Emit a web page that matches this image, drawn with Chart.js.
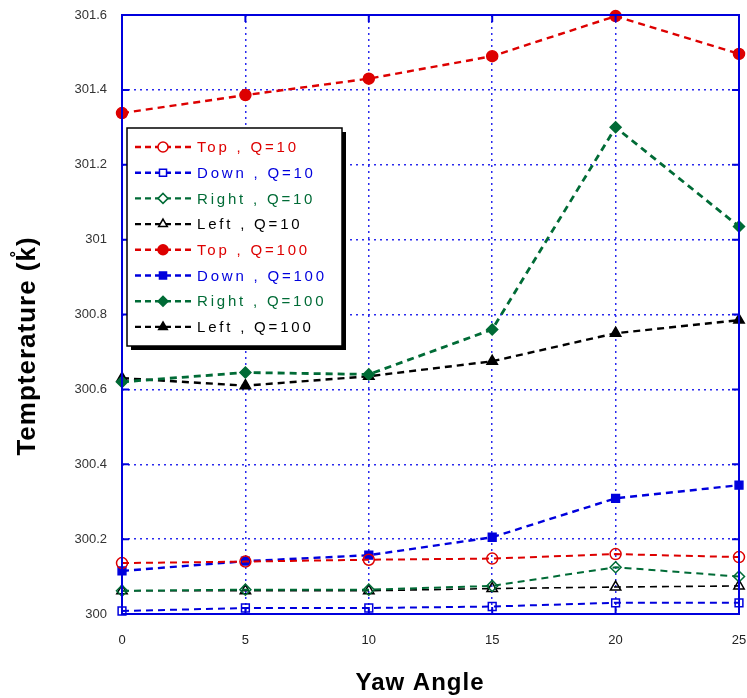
<!DOCTYPE html>
<html>
<head>
<meta charset="utf-8">
<script src="https://cdn.jsdelivr.net/npm/chart.js@4.4.1/dist/chart.umd.min.js"></script>
<style>
  html, body { margin: 0; padding: 0; background: #fff; }
  #wrap { width: 747px; height: 698px; }
</style>
</head>
<body>
<div id="wrap"><canvas id="chart" width="747" height="698"></canvas></div>
<script>
// Yaw angle vs temperature, eight probe series
const yawAngles = [0, 5, 10, 15, 20, 25]
const yTicks = [300, 300.2, 300.4, 300.6, 300.8, 301, 301.2, 301.4, 301.6]
const xTicks = [0, 5, 10, 15, 20, 25]

const topQ10 = [300.136, 300.140, 300.145, 300.148, 300.160, 300.152]
const downQ10 = [300.008, 300.016, 300.016, 300.020, 300.030, 300.030]
const rightQ10 = [300.062, 300.065, 300.065, 300.075, 300.125, 300.100]
const leftQ10 = [300.062, 300.062, 300.062, 300.068, 300.072, 300.075]
const topQ100 = [301.338, 301.386, 301.430, 301.490, 301.597, 301.496]
const downQ100 = [300.115, 300.141, 300.157, 300.205, 300.309, 300.344]
const rightQ100 = [300.620, 300.645, 300.640, 300.760, 301.300, 301.035]
const leftQ100 = [300.630, 300.610, 300.635, 300.675, 300.750, 300.785]

const RED = '#dd0000'
const BLUE = '#0000dd'
const GREEN = '#006b36'
const BLACK = '#000000'
const GRID = '#2a2aee'

const AREA = { left: 122, right: 739, top: 15, bottom: 614 }

function series(label, values, color, style, filled, width) {
  return {
    label,
    data: yawAngles.map((x, i) => ({ x, y: values[i] })),
    borderColor: color,
    borderWidth: width,
    borderDash: [7, 5],
    pointStyle: style,
    pointRadius: style === 'triangle' ? 6 : 5.5,
    pointBorderWidth: 1.5,
    pointBorderColor: color,
    pointBackgroundColor: filled ? color : 'rgba(0,0,0,0)',
    fill: false,
    tension: 0,
    clip: false,
  }
}

const datasets = [
  series('Top , Q=10', topQ10, RED, 'circle', false, 2),
  series('Down , Q=10', downQ10, BLUE, 'rect', false, 2),
  series('Right , Q=10', rightQ10, GREEN, 'rectRot', false, 2),
  series('Left , Q=10', leftQ10, BLACK, 'triangle', false, 1.6),
  series('Top , Q=100', topQ100, RED, 'circle', true, 2.4),
  series('Down , Q=100', downQ100, BLUE, 'rect', true, 2.4),
  series('Right , Q=100', rightQ100, GREEN, 'rectRot', true, 2.8),
  series('Left , Q=100', leftQ100, BLACK, 'triangle', true, 2.4),
]

// frame, inner tick marks, legend box and axis titles
const decor = {
  id: 'decor',
  afterDatasetsDraw(chart) {
    const { ctx, chartArea: a, scales } = chart
    ctx.save()
    ctx.strokeStyle = BLUE
    ctx.lineWidth = 2
    ctx.setLineDash([])
    ctx.beginPath()
    yTicks.forEach(v => {
      const y = scales.y.getPixelForValue(v)
      ctx.moveTo(a.left, y); ctx.lineTo(a.left + 7, y)
      ctx.moveTo(a.right, y); ctx.lineTo(a.right - 7, y)
    })
    xTicks.forEach(v => {
      const x = scales.x.getPixelForValue(v)
      ctx.moveTo(x, a.top); ctx.lineTo(x, a.top + 7)
      ctx.moveTo(x, a.bottom); ctx.lineTo(x, a.bottom - 7)
    })
    ctx.stroke()
    ctx.strokeRect(a.left, a.top, a.right - a.left, a.bottom - a.top)

    // legend
    const bx = 127, by = 128, bw = 215, bh = 218
    ctx.fillStyle = '#000'
    ctx.fillRect(bx + 4, by + 4, bw, bh)
    ctx.fillStyle = '#fff'
    ctx.fillRect(bx, by, bw, bh)
    ctx.strokeStyle = '#000'
    ctx.lineWidth = 1.5
    ctx.strokeRect(bx, by, bw, bh)

    ctx.font = '15px "Liberation Sans", Arial, sans-serif'
    ctx.letterSpacing = '2.8px'
    ctx.textBaseline = 'middle'
    chart.data.datasets.forEach((ds, i) => {
      const y = 147 + i * 25.7
      ctx.strokeStyle = ds.borderColor
      ctx.lineWidth = 2.4
      ctx.setLineDash([6, 4])
      ctx.beginPath(); ctx.moveTo(135, y); ctx.lineTo(192, y); ctx.stroke()
      ctx.setLineDash([])
      ctx.lineWidth = 1.5
      ctx.strokeStyle = ds.borderColor
      ctx.fillStyle = ds.pointBackgroundColor === 'rgba(0,0,0,0)' ? '#fff' : ds.borderColor
      Chart.helpers.drawPoint(ctx, {
        pointStyle: ds.pointStyle, radius: 5, rotation: 0, borderWidth: 1.5
      }, 163, y)
      ctx.fillStyle = ds.borderColor
      ctx.fillText(ds.label, 197, y + 1)
    })
    ctx.restore()
  },
  afterDraw(chart) {
    const { ctx } = chart
    ctx.save()
    ctx.fillStyle = '#000'
    ctx.textAlign = 'center'
    ctx.textBaseline = 'middle'
    ctx.font = 'bold 24px "Liberation Sans", Arial, sans-serif'
    ctx.letterSpacing = '1px'
    ctx.fillText('Yaw Angle', 420, 683)
    ctx.translate(28, 346)
    ctx.rotate(-Math.PI / 2)
    ctx.font = 'bold 26px "Liberation Sans", Arial, sans-serif'
    ctx.fillText('Tempterature (k\u030A)', 0, 0)
    ctx.restore()
  }
}

function noPad(s) {
  s.paddingLeft = 0
  s.paddingRight = 0
  s.paddingTop = 0
  s.paddingBottom = 0
}

new Chart(document.getElementById('chart'), {
  type: 'line',
  data: { datasets },
  options: {
    responsive: false,
    animation: false,
    layout: { padding: { top: AREA.top, right: 747 - AREA.right, left: 0, bottom: 0 } },
    plugins: { legend: { display: false }, tooltip: { enabled: false } },
    scales: {
      x: {
        type: 'linear',
        min: 0,
        max: 25,
        afterBuildTicks: (s) => { s.ticks = xTicks.map(v => ({ value: v })) },
        afterFit: (s) => { s.height = 698 - AREA.bottom; noPad(s) },
        ticks: {
          padding: 19,
          color: '#222',
          font: { family: '"Liberation Sans", Arial, sans-serif', size: 13 },
        },
        grid: { color: GRID, lineWidth: 1.5, drawTicks: false },
        border: { display: false, dash: [2, 4] },
      },
      y: {
        type: 'linear',
        min: 300,
        max: 301.6,
        afterBuildTicks: (s) => { s.ticks = yTicks.map(v => ({ value: v })) },
        afterFit: (s) => { s.width = AREA.left; noPad(s) },
        ticks: {
          padding: 15,
          color: '#333',
          font: { family: '"Liberation Sans", Arial, sans-serif', size: 13 },
          callback: (v) => String(Math.round(v * 10) / 10),
        },
        grid: { color: GRID, lineWidth: 1.5, drawTicks: false },
        border: { display: false, dash: [2, 4] },
      },
    },
  },
  plugins: [decor],
})
</script>
</body>
</html>
